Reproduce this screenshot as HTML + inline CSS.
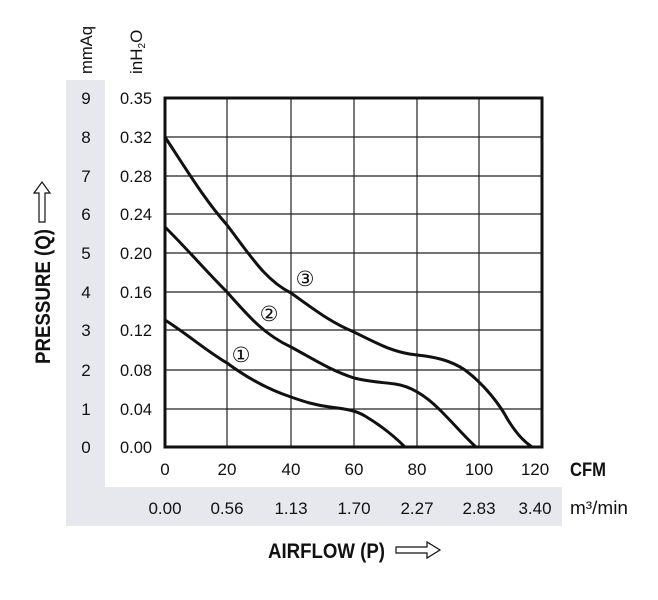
<!DOCTYPE html>
<html><head><meta charset="utf-8"><style>
html,body{margin:0;padding:0;background:#fff;}
svg{display:block;}
text{font-family:"Liberation Sans Narrow","Liberation Sans",sans-serif;fill:#111;}
</style></head><body>
<svg width="658" height="600" viewBox="0 0 658 600" xmlns="http://www.w3.org/2000/svg">
<rect x="66" y="80" width="39" height="446" fill="#e6e8ee"/>
<rect x="105" y="487" width="457" height="39" fill="#e6e8ee"/>
<g stroke="#222" stroke-width="1.2">
<line x1="227" y1="99" x2="227" y2="447"/><line x1="291" y1="99" x2="291" y2="447"/>
<line x1="354" y1="99" x2="354" y2="447"/><line x1="417" y1="99" x2="417" y2="447"/>
<line x1="479" y1="99" x2="479" y2="447"/>
<line x1="165" y1="137" x2="542" y2="137"/><line x1="165" y1="176" x2="542" y2="176"/>
<line x1="165" y1="214" x2="542" y2="214"/><line x1="165" y1="253" x2="542" y2="253"/>
<line x1="165" y1="292" x2="542" y2="292"/><line x1="165" y1="330" x2="542" y2="330"/>
<line x1="165" y1="370" x2="542" y2="370"/><line x1="165" y1="409" x2="542" y2="409"/>
</g>
<rect x="165" y="98" width="377" height="349" fill="none" stroke="#111" stroke-width="3"/>
<g fill="none" stroke="#111" stroke-width="3" stroke-linejoin="round" stroke-linecap="round">
<path d="M165,137 C190,175 205,200 227,225 C250,255 265,280 291,293 C315,310 330,322 354,332 C380,345 395,353 417,355 C435,357 450,360 465,370 C485,385 500,405 508,420 C518,436 525,442 532,447"/>
<path d="M165,227 C190,252 205,270 227,292 C250,318 265,335 291,347 C315,360 330,370 354,378 C370,382 380,382 395,384 C410,386 425,395 440,410 C455,425 465,437 476,447"/>
<path d="M165,320 C190,336 205,350 227,363 C250,380 270,390 291,397 C305,402 315,405 330,407 C345,409 355,410 365,416 C380,425 395,437 405,447"/>
</g>
<g font-size="21" text-anchor="middle">
<text x="305" y="286" style="font-family:'DejaVu Sans',sans-serif">③</text>
<text x="269" y="321" style="font-family:'DejaVu Sans',sans-serif">②</text>
<text x="241" y="362" style="font-family:'DejaVu Sans',sans-serif">①</text>
</g>
<g font-size="17" text-anchor="middle">
<text x="86" y="104">9</text><text x="86" y="143">8</text><text x="86" y="182">7</text>
<text x="86" y="220">6</text><text x="86" y="259">5</text><text x="86" y="298">4</text>
<text x="86" y="336">3</text><text x="86" y="376">2</text><text x="86" y="415">1</text>
<text x="86" y="453">0</text>
</g>
<g font-size="17" text-anchor="end">
<text x="152" y="104" textLength="32" lengthAdjust="spacingAndGlyphs">0.35</text><text x="152" y="143" textLength="32" lengthAdjust="spacingAndGlyphs">0.32</text><text x="152" y="182" textLength="32" lengthAdjust="spacingAndGlyphs">0.28</text>
<text x="152" y="220" textLength="32" lengthAdjust="spacingAndGlyphs">0.24</text><text x="152" y="259" textLength="32" lengthAdjust="spacingAndGlyphs">0.20</text><text x="152" y="298" textLength="32" lengthAdjust="spacingAndGlyphs">0.16</text>
<text x="152" y="336" textLength="32" lengthAdjust="spacingAndGlyphs">0.12</text><text x="152" y="376" textLength="32" lengthAdjust="spacingAndGlyphs">0.08</text><text x="152" y="415" textLength="32" lengthAdjust="spacingAndGlyphs">0.04</text>
<text x="152" y="453" textLength="32" lengthAdjust="spacingAndGlyphs">0.00</text>
</g>
<g font-size="17" text-anchor="middle">
<text x="165" y="475">0</text><text x="227" y="475">20</text><text x="291" y="475">40</text>
<text x="354" y="475">60</text><text x="417" y="475">80</text><text x="479" y="475">100</text>
<text x="535" y="475">120</text>
<text x="165" y="514">0.00</text><text x="227" y="514">0.56</text><text x="291" y="514">1.13</text>
<text x="354" y="514">1.70</text><text x="417" y="514">2.27</text><text x="479" y="514">2.83</text>
<text x="535" y="514">3.40</text>
</g>
<text x="570" y="476" font-size="19" font-weight="bold" textLength="36" lengthAdjust="spacingAndGlyphs">CFM</text>
<text x="570" y="514" font-size="18" textLength="58" lengthAdjust="spacingAndGlyphs">m³/min</text>
<text transform="translate(92,74) rotate(-90)" font-size="17" textLength="48" lengthAdjust="spacingAndGlyphs">mmAq</text>
<text transform="translate(142,74) rotate(-90)" font-size="17">inH<tspan font-size="10" dy="3">2</tspan><tspan dy="-3">O</tspan></text>
<text transform="translate(50,364) rotate(-90)" font-size="21" font-weight="bold" textLength="135" lengthAdjust="spacingAndGlyphs">PRESSURE (Q)</text>
<path d="M39,222 L39,193 L34,193 L42,182 L50,193 L45,193 L45,222 Z" fill="#fff" stroke="#111" stroke-width="1.2"/>
<text x="268" y="558" font-size="21" font-weight="bold" textLength="117" lengthAdjust="spacingAndGlyphs">AIRFLOW (P)</text>
<path d="M396,547 L427,547 L427,542 L440,550 L427,558 L427,553 L396,553 Z" fill="#fff" stroke="#111" stroke-width="1.2"/>
</svg>
</body></html>
